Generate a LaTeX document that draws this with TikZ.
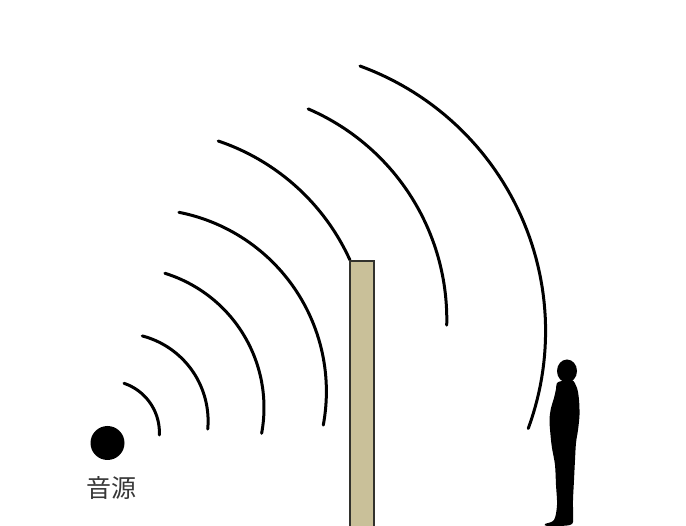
\documentclass[tikz,border=0pt]{standalone}
\usepackage{fontspec}
\newfontfamily\jpfont{Noto Sans CJK JP}
\definecolor{wallfill}{RGB}{201,192,153}
\definecolor{wallline}{RGB}{50,50,45}
\definecolor{labelgray}{RGB}{55,55,55}
\begin{document}
\begin{tikzpicture}[x=1pt,y=-1pt,
  wave/.style={line width=3pt, line cap=round},
  sourcedot/.style={circle, fill=black, minimum size=34pt, inner sep=0pt},
  sourcelabel/.style={font=\jpfont\fontsize{25}{25}\selectfont, text=labelgray, inner sep=0pt},
  wallbox/.style={fill=wallfill, draw=wallline, line width=2pt}]
\useasboundingbox (0,0) rectangle (686,526);

% sound waves spreading from the source: centre x / centre y / radius / start / end angle
\foreach \cx/\cy/\r/\a/\b in {
    107.4/432.6/52/-71.4/2.6,
    120.1/421.1/88/-75.4/5.2,
    123.3/407.7/140.7/-72.8/10.5,
    143.8/391.5/182.6/-78.9/10.6,
    147.3/351.9/222.5/-71.4/-24.4,
    217.5/319.5/229.3/-66.7/1.4,
    263.5/331.1/282.1/-70.0/20.2}
  \draw[wave] plot[domain=\a:\b, samples=60, variable=\t]
    ({\cx+\r*cos(\t)},{\cy+\r*sin(\t)});

% the wall
\draw[wallbox] (349.5,261) rectangle (373.5,529);

% the sound source and its label
\node[sourcedot] (src) at (107.5,443) {};
\node[sourcelabel] (srclabel) at (111,488) {音源};

% listener silhouette, hand raised to the chin
\fill[black] (567,371) ellipse[x radius=10, y radius=11.5];
\fill[black] plot[smooth cycle, tension=0.55] coordinates {
  (572,380) (577,388) (579,400) (579.5,415) (578,430) (576,443)
  (575,460) (574,480) (573,500) (573,514) (572,524)
  (560,526) (547,526) (545,524) (554,520)
  (557,505) (556,485) (555,465) (552,448)
  (550.5,435) (549.5,420) (551,408) (554,398) (556,389) (557,383) (562,381)};
\end{tikzpicture}
\end{document}
